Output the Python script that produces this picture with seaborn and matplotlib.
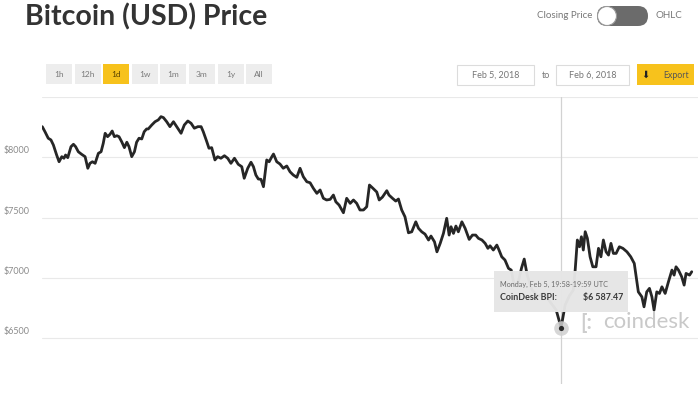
import numpy as np
import pandas as pd
import matplotlib
matplotlib.use("Agg")
import matplotlib.pyplot as plt
from matplotlib import transforms
from matplotlib.patches import Rectangle, FancyBboxPatch, Circle
import seaborn as sns

# hours since start of the 1d window, price in USD (CoinDesk BPI)
hours = [0.01, 0.11, 0.23, 0.33, 0.42, 0.54, 0.63, 0.73, 0.81, 0.87, 0.95, 1.07, 1.16, 1.24, 1.34,
         1.46, 1.59, 1.69, 1.77, 1.86, 1.96, 2.08, 2.18, 2.26, 2.33, 2.42, 2.51, 2.59, 2.67, 2.76,
         2.84, 2.94, 3.04, 3.13, 3.21, 3.31, 3.41, 3.49, 3.58, 3.68, 3.77, 3.86,
         3.92, 4.05, 4.17, 4.29, 4.39, 4.48, 4.6, 4.72, 4.85, 4.97, 5.13, 5.25, 5.38, 5.5, 5.62,
         5.75, 5.87, 5.95, 6.08, 6.16, 6.26, 6.38, 6.48, 6.6, 6.73, 6.85, 6.97, 7.1, 7.24, 7.37,
         7.46, 7.59, 7.71, 7.8, 7.89, 7.98,
         8.08, 8.17, 8.29, 8.38, 8.48, 8.54, 8.66, 8.78, 8.9, 9.03, 9.15, 9.27, 9.4, 9.52, 9.64,
         9.77, 9.89, 10.01, 10.14, 10.26, 10.38, 10.5, 10.63, 10.75, 10.84, 10.96, 11.12, 11.24,
         11.37, 11.49, 11.61, 11.73, 11.86, 11.98, 12.08,
         12.2, 12.35, 12.44, 12.56, 12.72, 12.8, 12.93, 13.05, 13.15, 13.27, 13.39, 13.52, 13.64,
         13.79, 13.89, 14.01, 14.13, 14.26, 14.35, 14.48, 14.57, 14.69, 14.81, 14.93, 15.02, 15.09,
         15.18, 15.27, 15.36, 15.49, 15.61, 15.76, 15.88, 16.0,
         16.1, 16.23, 16.35, 16.45, 16.53, 16.65, 16.78, 16.86, 16.96, 17.08, 17.21, 17.31,
         17.42, 17.57, 17.69, 17.79, 17.9, 18.08, 18.3, 18.52, 18.75, 18.97, 19.15, 19.3, 19.45,
         19.6, 19.67,
         19.75, 19.83, 19.9, 19.97, 20.04, 20.12, 20.22, 20.32, 20.44, 20.53, 20.62, 20.71, 20.81,
         20.9, 20.99, 21.08, 21.18, 21.3, 21.43, 21.58, 21.72, 21.85, 21.92, 22.0, 22.13, 22.21,
         22.31, 22.41, 22.5, 22.58, 22.68, 22.78, 22.87, 22.99, 23.11, 23.24, 23.32, 23.39, 23.48,
         23.6, 23.69, 23.76, 23.89, 23.97]
prices = [8254, 8212, 8158, 8144, 8102, 8019, 7963, 8005, 7992, 8019, 7997, 8088, 8108, 8088, 8046,
          8025, 8005, 7909, 7950, 7963, 7950, 8033, 8046, 8116, 8199, 8171, 8191, 8218, 8171, 8179,
          8171, 8129, 8080, 8125, 8088, 8005, 8046, 8125, 8158, 8152, 8212, 8235,
          8235, 8268, 8295, 8310, 8337, 8329, 8295, 8254, 8295, 8254, 8199, 8268, 8301, 8282, 8241,
          8254, 8254, 8212, 8129, 8075, 8080, 7978, 8005, 7992, 8013, 7992, 7950, 7992, 7942, 7922,
          7826, 7909, 7959, 7922, 7853, 7820,
          7817, 7756, 7978, 7963, 8005, 8027, 7963, 7944, 7909, 7928, 7880, 7853, 7834, 7909, 7839,
          7797, 7789, 7743, 7701, 7729, 7660, 7646, 7651, 7687, 7631, 7604, 7540, 7660,
          7618, 7646, 7618, 7563, 7563, 7590, 7770,
          7745, 7712, 7646, 7670, 7723, 7687, 7660, 7637, 7654, 7563, 7507, 7374, 7382,
          7465, 7411, 7382, 7363, 7314, 7347, 7299, 7216, 7286, 7369, 7494, 7355, 7424,
          7369, 7430, 7382, 7465, 7411, 7319, 7355, 7355,
          7328, 7314, 7286, 7245, 7266, 7231, 7272, 7231, 7175, 7148, 7079, 7065,
          6940, 6965, 7081, 7156, 7023, 6899, 6849, 6874, 6799, 6733, 6587.47, 6775, 6849,
          6899, 7065,
          7314, 7258, 7341, 7231, 7383, 7328, 7175, 7092, 7092, 7245, 7175, 7314, 7216,
          7189, 7286, 7203, 7203, 7258, 7245, 7216, 7175, 7120, 7009, 6884, 6843, 6760,
          6884, 6913, 6843, 6733, 6884, 6871, 6926, 6871, 6967, 7065, 7023, 7092, 7065,
          7009, 6940, 7037, 7023, 7051]

price_ticks = [6500, 7000, 7500, 8000]
tick_labels = ["$6500", "$7000", "$7500", "$8000"]
range_buttons = ["1h", "12h", "1d", "1w", "1m", "3m", "1y", "All"]
active_range = "1d"
start_date = "Feb 5, 2018"
end_date = "Feb 6, 2018"
hover_price = 6587.47
hover_label = "Monday, Feb 5, 19:58-19:59 UTC"

df = pd.DataFrame({"hour": hours, "price": prices})
hover_hour = df.loc[df["price"] == hover_price, "hour"].iloc[0]

sns.set_style("white")
plt.rcParams['font.family'] = ['Lato', 'DejaVu Sans']

fig = plt.figure(figsize=(7, 3.93), dpi=100)
ax = fig.add_axes([0.06, 0.0229, 0.9371, 0.7303])

sns.lineplot(data=df, x="hour", y="price", ax=ax, color="#262626", linewidth=2.0, zorder=3)
ax.axvline(hover_hour, color="#d2d2d2", linewidth=0.9, zorder=2)
ax.scatter([hover_hour], [hover_price], s=110, color="#cfcfcf", alpha=0.85, zorder=4, linewidths=0)
ax.scatter([hover_hour], [hover_price], s=14, color="#2a2a2a", zorder=5, linewidths=0)

ax.set_xlim(0, 24.2)
ax.set_ylim(6120, 8500)
ax.set_yticks(price_ticks + [8500])
ax.set_xticks([])
ax.set_yticklabels([])
ax.tick_params(length=0)
ax.grid(axis="y", color="#e9e9e9", linewidth=0.8)
ax.set_xlabel("")
ax.set_ylabel("")
sns.despine(ax=ax, left=True, bottom=True)

lab_trans = transforms.offset_copy(
    transforms.blended_transform_factory(fig.transFigure, ax.transData), fig=fig, y=2, units="dots")
for v, lab in zip(price_ticks, tick_labels):
    ax.text(4 / 700, v, lab, transform=lab_trans, fontsize=6.5, color="#8c8c8c",
            ha="left", va="bottom", clip_on=False)

# header / widgets drawn in pixel coordinates
deco = fig.add_axes([0, 0, 1, 1], zorder=3)
deco.set_xlim(0, 700)
deco.set_ylim(393, 0)
deco.axis("off")

deco.text(25, 17, "Bitcoin (USD) Price", fontsize=20.5, fontweight="bold", color="#333333",
          ha="left", va="center")

for i, lab in enumerate(range_buttons):
    left = 46 + i * 28.6
    active = lab == active_range
    deco.add_patch(Rectangle((left, 64), 26, 20, facecolor="#f7c21c" if active else "#ededed",
                             edgecolor="none"))
    deco.text(left + 13, 74.5, lab, fontsize=6, color="#5a4300" if active else "#7a7a7a",
              ha="center", va="center")

deco.text(592, 16, "Closing Price", fontsize=7, color="#777777", ha="right", va="center")
deco.add_patch(FancyBboxPatch((597, 6), 51, 20, boxstyle="round,pad=0,rounding_size=10",
                              facecolor="#6b6b6b", edgecolor="none"))
deco.add_patch(Circle((607, 16), 9.5, facecolor="white", edgecolor="#9a9a9a", linewidth=0.8))
deco.text(655, 16, "OHLC", fontsize=7, color="#777777", ha="left", va="center")

deco.add_patch(Rectangle((457, 65), 77, 20, facecolor="white", edgecolor="#dcdcdc", linewidth=0.8))
deco.text(495.5, 75, start_date, fontsize=6.5, color="#777777", ha="center", va="center")
deco.text(546, 75, "to", fontsize=6.5, color="#777777", ha="center", va="center")
deco.add_patch(Rectangle((556, 65), 73, 20, facecolor="white", edgecolor="#dcdcdc", linewidth=0.8))
deco.text(592.5, 75, end_date, fontsize=6.5, color="#777777", ha="center", va="center")
deco.add_patch(Rectangle((637, 64), 57, 21, facecolor="#f7c21c", edgecolor="none"))
deco.text(645, 75, "\u2b07", fontsize=7, color="#222222", ha="center", va="center",
          family=["DejaVu Sans"])
deco.text(676, 75, "Export", fontsize=6.3, color="#555555", ha="center", va="center")

# hover tooltip
deco.add_patch(Rectangle((494, 271), 134, 41, facecolor="#e6e6e6", edgecolor="none", alpha=0.97))
deco.text(500, 284, hover_label, fontsize=5.2, color="#6b6b6b", ha="left", va="center")
deco.text(500, 297.5, "CoinDesk BPI:", fontsize=6.4, fontweight="bold", color="#3a3a3a",
          ha="left", va="center")
deco.text(623, 297.5, f"${hover_price:,.2f}".replace(",", " "), fontsize=6.4, fontweight="bold",
          color="#3a3a3a", ha="right", va="center")

# watermark
deco.text(586, 329, "[:", fontsize=15, fontweight="bold", color="#cdcdcd", ha="center",
          va="baseline")
deco.text(603, 328, "coindesk", fontsize=16, color="#c9c9c9", ha="left", va="baseline")

fig.savefig("out.png", dpi=100)
